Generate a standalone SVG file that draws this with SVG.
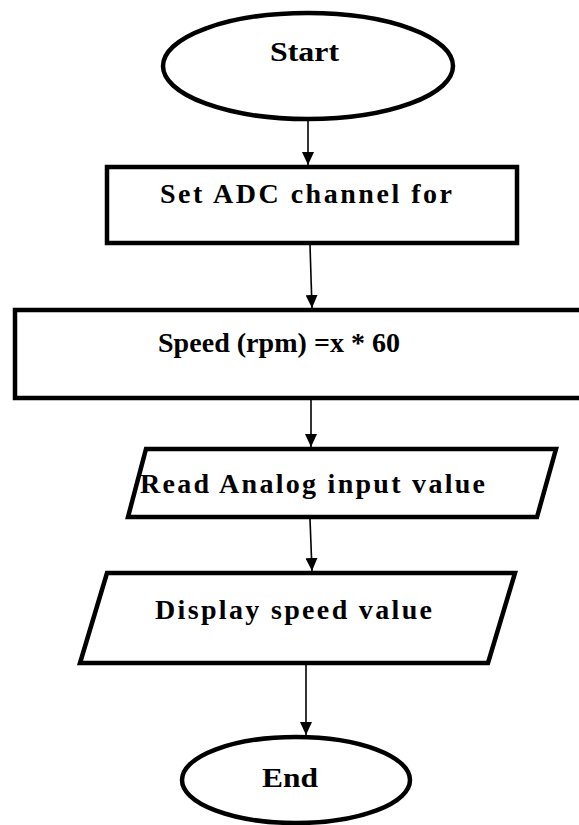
<svg xmlns="http://www.w3.org/2000/svg" width="579" height="825" viewBox="0 0 579 825">
  <defs>
    <style>
      .shape { fill: #fff; stroke: #000; stroke-width: 4.5; }
      .label { font-family: "Liberation Serif", "Times New Roman", serif; font-weight: bold; font-size: 28px; fill: #000; }
      .conn { stroke: #000; stroke-width: 1.6; fill: none; marker-end: url(#arrow); }
    </style>
    <marker id="arrow" viewBox="0 0 13 12" refX="13" refY="6" markerWidth="13" markerHeight="12" markerUnits="userSpaceOnUse" orient="auto">
      <path d="M0,0 L13,6 L0,12 Z" fill="#000"/>
    </marker>
  </defs>
  <rect width="579" height="825" fill="#fff"/>

  <g id="start">
    <ellipse class="shape" cx="308" cy="66" rx="145" ry="53"/>
    <text class="label" x="270" y="61" textLength="69" lengthAdjust="spacingAndGlyphs">Start</text>
  </g>

  <g id="set-adc">
    <rect class="shape" x="107" y="167" width="410" height="76"/>
    <text class="label" x="160" y="203" textLength="292" lengthAdjust="spacing">Set ADC channel for</text>
  </g>

  <g id="speed">
    <rect class="shape" x="15" y="310" width="580" height="88"/>
    <text class="label" x="158" y="352" textLength="242" lengthAdjust="spacing">Speed (rpm) =x * 60</text>
  </g>

  <g id="read-analog">
    <polygon class="shape" points="146,449 556,449 537,517 128,517"/>
    <text class="label" x="140" y="493" textLength="345" lengthAdjust="spacing">Read Analog input value</text>
  </g>

  <g id="display">
    <polygon class="shape" points="107,573 515,573 488,663 80,663"/>
    <text class="label" x="155" y="619" textLength="277" lengthAdjust="spacing">Display speed value</text>
  </g>

  <g id="end">
    <ellipse class="shape" cx="296" cy="780" rx="114" ry="43"/>
    <text class="label" x="262" y="787" textLength="56" lengthAdjust="spacingAndGlyphs">End</text>
  </g>

  <g id="connectors">
    <line class="conn" x1="308" y1="121" x2="308" y2="165"/>
    <line class="conn" x1="310" y1="245" x2="312" y2="308"/>
    <line class="conn" x1="311" y1="400" x2="311" y2="447"/>
    <line class="conn" x1="310" y1="519" x2="312" y2="571"/>
    <line class="conn" x1="306" y1="665" x2="306" y2="735"/>
  </g>
</svg>
